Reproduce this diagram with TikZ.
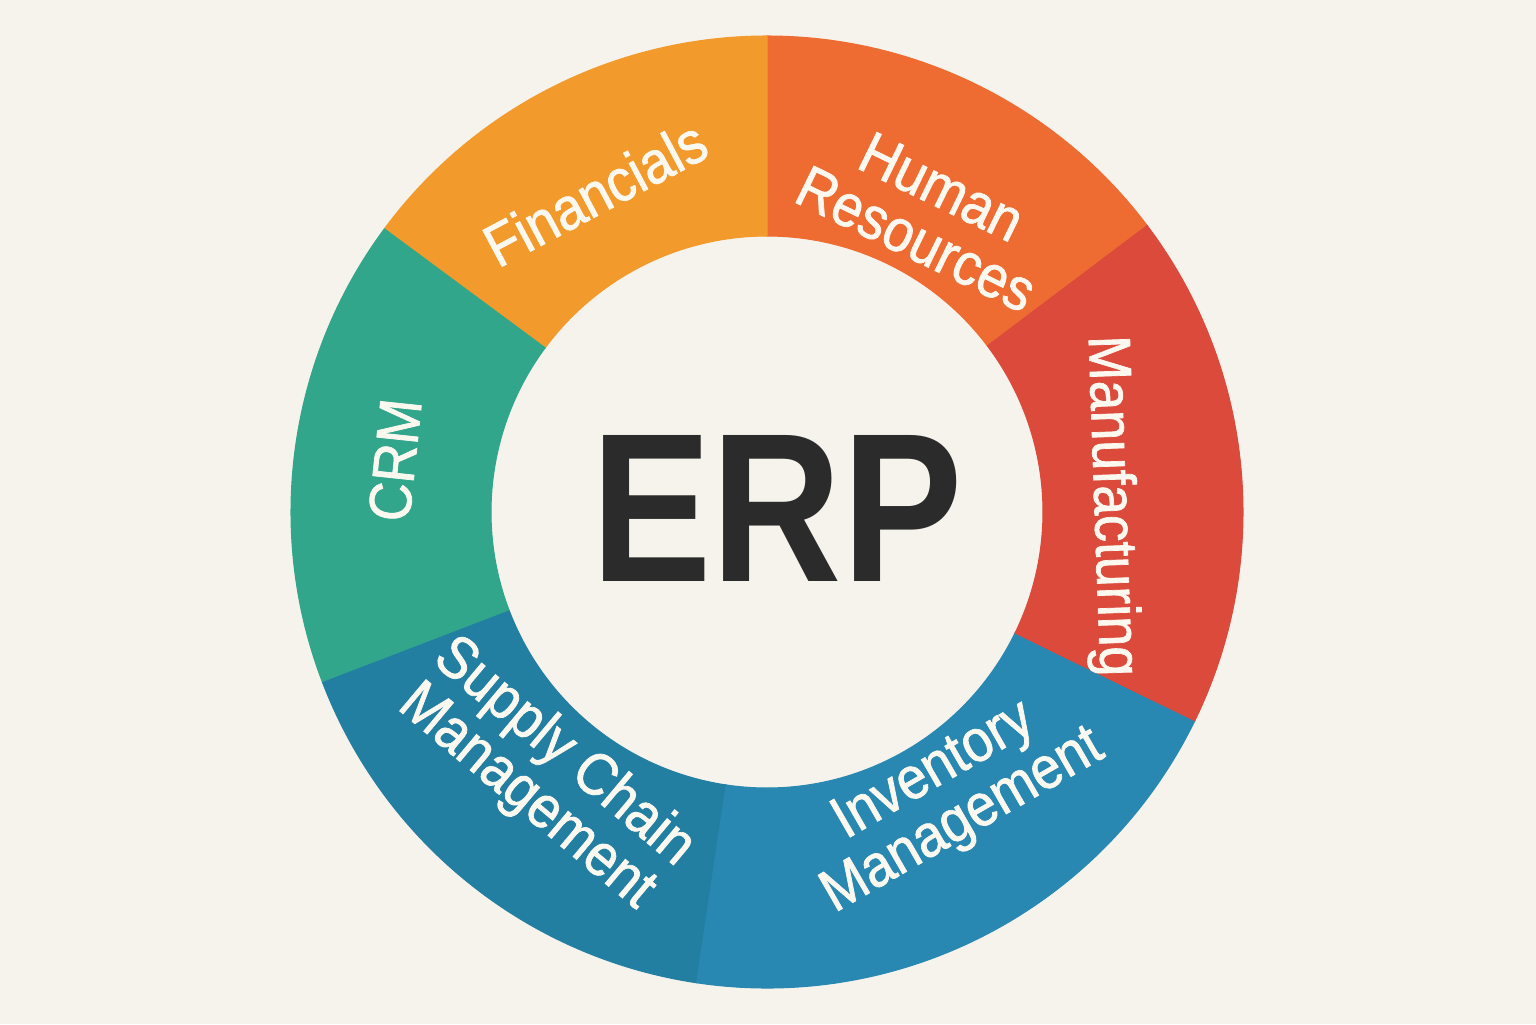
\documentclass[tikz,border=0pt]{standalone}
\usepackage{fontspec}
\setmainfont{Liberation Sans}
\newfontfamily\labfam[FakeStretch=0.9,FakeBold=1.2]{Liberation Sans}
\newfontfamily\erpfam[FakeStretch=0.85]{Liberation Sans}
\definecolor{bg}{HTML}{F6F3EC}
\definecolor{finc}{HTML}{F39A2C}
\definecolor{hrc}{HTML}{EE6B32}
\definecolor{manc}{HTML}{DB4A3A}
\definecolor{invc}{HTML}{2888B1}
\definecolor{scmc}{HTML}{237FA2}
\definecolor{crmc}{HTML}{32A68B}
\definecolor{labc}{HTML}{FBF8F0}
\definecolor{erpc}{HTML}{2B2B2B}
\tikzset{
  seglabel/.style={text=labc, font=\labfam\fontsize{17}{16.5}\selectfont, align=center, inner sep=0pt},
  hubtext/.style={text=erpc, font=\erpfam\bfseries\fontsize{60.4}{60}\selectfont, inner sep=0pt}
}
\begin{document}
\begin{tikzpicture}
\useasboundingbox (-7.67,-5.12) rectangle (7.69,5.12);
\fill[bg] (-7.67,-5.12) rectangle (7.69,5.12);
\def\Ro{4.76}
\def\Ri{2.76}
\foreach \a/\b/\c in {37/90/hrc, 90/143.5/finc, 143.5/201/crmc, 201/261.5/scmc, 261.5/334/invc, -26/37/manc}{
  \filldraw[fill=\c, draw=\c, line width=0.3pt] (\a:\Ro) arc[start angle=\a, end angle=\b, radius=\Ro] -- (\b:\Ri) arc[start angle=\b, end angle=\a, radius=\Ri] -- cycle;
}
\node[hubtext] (erp) at (0.10,0.04) {ERP};
\node[seglabel, rotate=28] (fin) at (-1.72,3.19) {Financials};
\node[seglabel, rotate=-26] (hr) at (1.62,2.99) {Human\\Resources};
\node[seglabel, rotate=-88] (man) at (3.43,0.06) {Manufacturing};
\node[seglabel, rotate=84] (crm) at (-3.72,0.52) {CRM};
\node[seglabel, rotate=-40] (scm) at (-2.22,-2.63) {Supply Chain\\Management};
\node[seglabel, rotate=30] (inv) at (1.82,-2.85) {Inventory\\Management};
\end{tikzpicture}
\end{document}
